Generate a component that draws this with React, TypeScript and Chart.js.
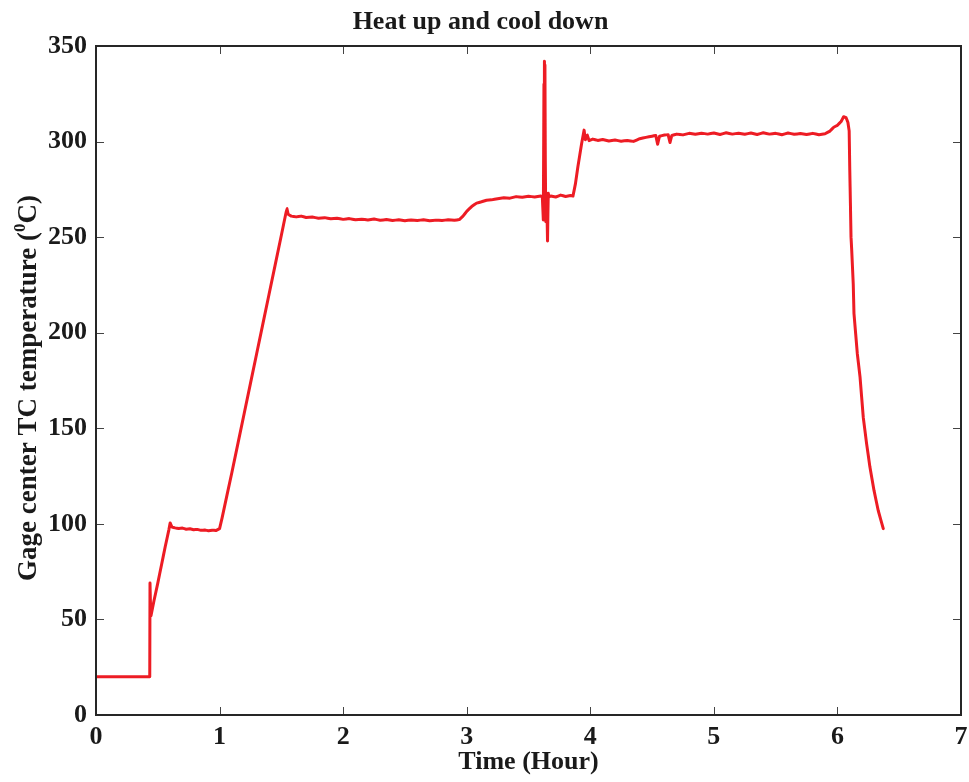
import React, { useEffect, useRef } from "react";
import { Chart, registerables } from "chart.js";

Chart.register(...registerables);

const chartTitle = "Heat up and cool down";
const xAxisTitle = "Time (Hour)";
const yAxisTitleMain = "Gage center TC temperature (";
const yAxisTitleSup = "0";
const yAxisTitleEnd = "C)";

const xTicks = [0, 1, 2, 3, 4, 5, 6, 7];
const yTicks = [0, 50, 100, 150, 200, 250, 300, 350];

// Time (hours) — 10 values per row, aligned with tempC rows
const timeHours = [
  0, 0.435, 0.437, 0.44, 0.445, 0.47, 0.5, 0.53, 0.56, 0.59,
  0.6, 0.615, 0.64, 0.67, 0.7, 0.73, 0.76, 0.79, 0.82, 0.85,
  0.88, 0.91, 0.94, 0.97, 1.0, 1.02, 1.1, 1.2, 1.3, 1.4,
  1.5, 1.535, 1.545, 1.555, 1.58, 1.62, 1.66, 1.7, 1.75, 1.8,
  1.85, 1.9, 1.95, 2.0, 2.05, 2.1, 2.15, 2.2, 2.25, 2.3,
  2.35, 2.4, 2.45, 2.5, 2.55, 2.6, 2.65, 2.7, 2.75, 2.8,
  2.85, 2.9, 2.94, 2.97, 3.0, 3.04, 3.08, 3.12, 3.16, 3.2,
  3.25, 3.3, 3.35, 3.4, 3.45, 3.5, 3.55, 3.6, 3.612, 3.62,
  3.625, 3.627, 3.629, 3.631, 3.633, 3.636, 3.64, 3.645, 3.65, 3.654,
  3.657, 3.66, 3.665, 3.68, 3.72, 3.76, 3.8, 3.84, 3.86, 3.88,
  3.9, 3.93, 3.95, 3.96, 3.975, 3.99, 4.02, 4.06, 4.1, 4.15,
  4.2, 4.25, 4.3, 4.35, 4.4, 4.45, 4.5, 4.53, 4.545, 4.56,
  4.6, 4.63, 4.645, 4.66, 4.7, 4.75, 4.8, 4.85, 4.9, 4.95,
  5.0, 5.05, 5.1, 5.15, 5.2, 5.25, 5.3, 5.35, 5.4, 5.45,
  5.5, 5.55, 5.6, 5.65, 5.7, 5.75, 5.8, 5.85, 5.9, 5.94,
  5.97, 6.0, 6.03, 6.05, 6.07, 6.085, 6.095, 6.1, 6.105, 6.11,
  6.115, 6.128, 6.134, 6.161, 6.183, 6.209, 6.236, 6.263, 6.296, 6.33,
  6.371,
];

// Gage center TC temperature (°C)
const tempC = [
  20, 20, 69, 60, 52, 60, 69, 78.5, 88, 97,
  100.5, 98.3, 97.9, 97.6, 97.8, 97.2, 97.4, 96.9, 97.1, 96.6,
  96.8, 96.4, 96.7, 96.5, 97.5, 103, 127, 158, 189, 220,
  251, 262, 265, 262, 261, 260.6, 261, 260.3, 260.5, 259.9,
  260.2, 259.6, 259.9, 259.3, 259.7, 259.1, 259.4, 259.0, 259.5, 258.8,
  259.2, 258.7, 259.1, 258.6, 259.0, 258.7, 259.1, 258.6, 258.9, 258.7,
  259.1, 258.8, 259.2, 261, 263.5, 266, 267.8, 268.5, 269.3, 269.5,
  270.1, 270.6, 270.4, 271.2, 270.9, 271.4, 271.0, 271.5, 271, 259,
  330, 262, 342, 265, 340, 290, 258, 270, 262, 248,
  262, 273, 271, 271.5, 271, 272, 271.3, 271.8, 271.5, 278,
  287, 299, 306, 301, 303.5, 300.5, 301.3, 300.6, 301.1, 300.3,
  300.8, 300.2, 300.6, 300.1, 301.5, 302.2, 302.8, 303.2, 298.6, 302.8,
  303.4, 303.6, 299.5, 303.2, 303.9, 303.5, 304.3, 303.8, 304.4, 303.9,
  304.5, 303.7, 304.6, 303.9, 304.4, 303.8, 304.5, 303.7, 304.6, 303.9,
  304.3, 303.6, 304.5, 303.8, 304.2, 303.7, 304.3, 303.6, 304.1, 305.5,
  307.5, 308.5, 310.5, 313, 312.5, 310, 305.6, 285, 268, 250,
  244, 225.5, 210, 189, 176.8, 155.8, 142, 129.7, 117.5, 107,
  97.5,
];

const lineColor = "#ed1c24";
const textColor = "#1a1a1a";
const fontFamily = "'Liberation Serif', 'Times New Roman', serif";

const boxPlugin = {
  id: "matlabBox",
  afterDatasetsDraw(chart: any) {
    const { ctx, chartArea, scales } = chart;
    const { left, right, top, bottom } = chartArea;
    ctx.save();
    ctx.strokeStyle = "#444444";
    ctx.lineWidth = 1;
    const tl = 8;
    xTicks.forEach((v) => {
      const px = Math.round(scales.x.getPixelForValue(v)) + 0.5;
      ctx.beginPath();
      ctx.moveTo(px, bottom);
      ctx.lineTo(px, bottom - tl);
      ctx.moveTo(px, top);
      ctx.lineTo(px, top + tl);
      ctx.stroke();
    });
    yTicks.forEach((v) => {
      const py = Math.round(scales.y.getPixelForValue(v)) + 0.5;
      ctx.beginPath();
      ctx.moveTo(left, py);
      ctx.lineTo(left + tl, py);
      ctx.moveTo(right, py);
      ctx.lineTo(right - tl, py);
      ctx.stroke();
    });
    ctx.strokeStyle = "#262626";
    ctx.lineWidth = 2;
    ctx.strokeRect(left, top, right - left, bottom - top);
    ctx.restore();
  },
  afterDraw(chart: any) {
    // Y axis title with a superscript degree mark
    const { ctx } = chart;
    const size = 27;
    const supSize = 17;
    ctx.save();
    ctx.fillStyle = textColor;
    ctx.textBaseline = "alphabetic";
    ctx.textAlign = "left";
    ctx.font = `bold ${size}px ${fontFamily}`;
    const w1 = ctx.measureText(yAxisTitleMain).width;
    const w3 = ctx.measureText(yAxisTitleEnd).width;
    ctx.font = `bold ${supSize}px ${fontFamily}`;
    const w2 = ctx.measureText(yAxisTitleSup).width;
    const total = w1 + w2 + w3;
    const centerY = 388;
    const baselineX = 36;
    ctx.translate(baselineX, centerY);
    ctx.rotate(-Math.PI / 2);
    let x = -total / 2;
    ctx.font = `bold ${size}px ${fontFamily}`;
    ctx.fillText(yAxisTitleMain, x, 0);
    x += w1;
    ctx.font = `bold ${supSize}px ${fontFamily}`;
    ctx.fillText(yAxisTitleSup, x, -11);
    x += w2;
    ctx.font = `bold ${size}px ${fontFamily}`;
    ctx.fillText(yAxisTitleEnd, x, 0);
    ctx.restore();
  },
};

export default function App() {
  const canvasRef = useRef<HTMLCanvasElement | null>(null);

  useEffect(() => {
    document.body.style.margin = "0";
    const canvas = canvasRef.current;
    if (!canvas) return;
    const points = timeHours.map((t, i) => ({ x: t, y: tempC[i] }));
    const chart = new Chart(canvas, {
      type: "line",
      data: {
        datasets: [
          {
            data: points,
            borderColor: lineColor,
            backgroundColor: lineColor,
            borderWidth: 3,
            borderJoinStyle: "round",
            borderCapStyle: "round",
            pointRadius: 0,
            // tiny tension avoids Chart.js's fast-path pixel merging on steep segments
            tension: 0.0001,
            fill: false,
          },
        ],
      },
      options: {
        animation: false,
        responsive: false,
        devicePixelRatio: 1,
        parsing: false as any,
        layout: { padding: { left: 0, right: 8, top: 0, bottom: 0 } },
        plugins: {
          legend: { display: false },
          tooltip: { enabled: false },
          title: {
            display: true,
            text: chartTitle,
            color: textColor,
            font: { family: fontFamily, size: 26, weight: "bold", lineHeight: 1.2 },
            padding: { top: 7, bottom: 7.8 },
          },
        },
        scales: {
          x: {
            type: "linear",
            min: 0,
            max: 7,
            afterFit: (scale: any) => {
              scale.height = 67;
              scale.paddingLeft = 0;
              scale.paddingRight = 0;
            },
            afterBuildTicks: (scale: any) => {
              scale.ticks = xTicks.map((v) => ({ value: v }));
            },
            grid: { display: false, drawTicks: false },
            border: { display: false },
            ticks: {
              color: textColor,
              padding: 7,
              maxRotation: 0,
              autoSkip: false,
              font: { family: fontFamily, size: 26, weight: "bold", lineHeight: 1.2 },
            },
            title: {
              display: true,
              text: xAxisTitle,
              color: textColor,
              font: { family: fontFamily, size: 26, weight: "bold", lineHeight: 1.2 },
              padding: { top: 0, bottom: 4 },
            },
          },
          y: {
            type: "linear",
            min: 0,
            max: 350,
            afterFit: (scale: any) => {
              scale.width = 96;
              scale.paddingTop = 0;
              scale.paddingBottom = 0;
            },
            afterBuildTicks: (scale: any) => {
              scale.ticks = yTicks.map((v) => ({ value: v }));
            },
            grid: { display: false, drawTicks: false },
            border: { display: false },
            ticks: {
              color: textColor,
              padding: 9,
              autoSkip: false,
              font: { family: fontFamily, size: 26, weight: "bold", lineHeight: 1.2 },
            },
            title: { display: false },
          },
        },
      },
      plugins: [boxPlugin],
    });
    return () => chart.destroy();
  }, []);

  return (
    <div style={{ width: 969, height: 782, background: "#ffffff" }}>
      <canvas ref={canvasRef} width={969} height={782} style={{ display: "block" }} />
    </div>
  );
}
